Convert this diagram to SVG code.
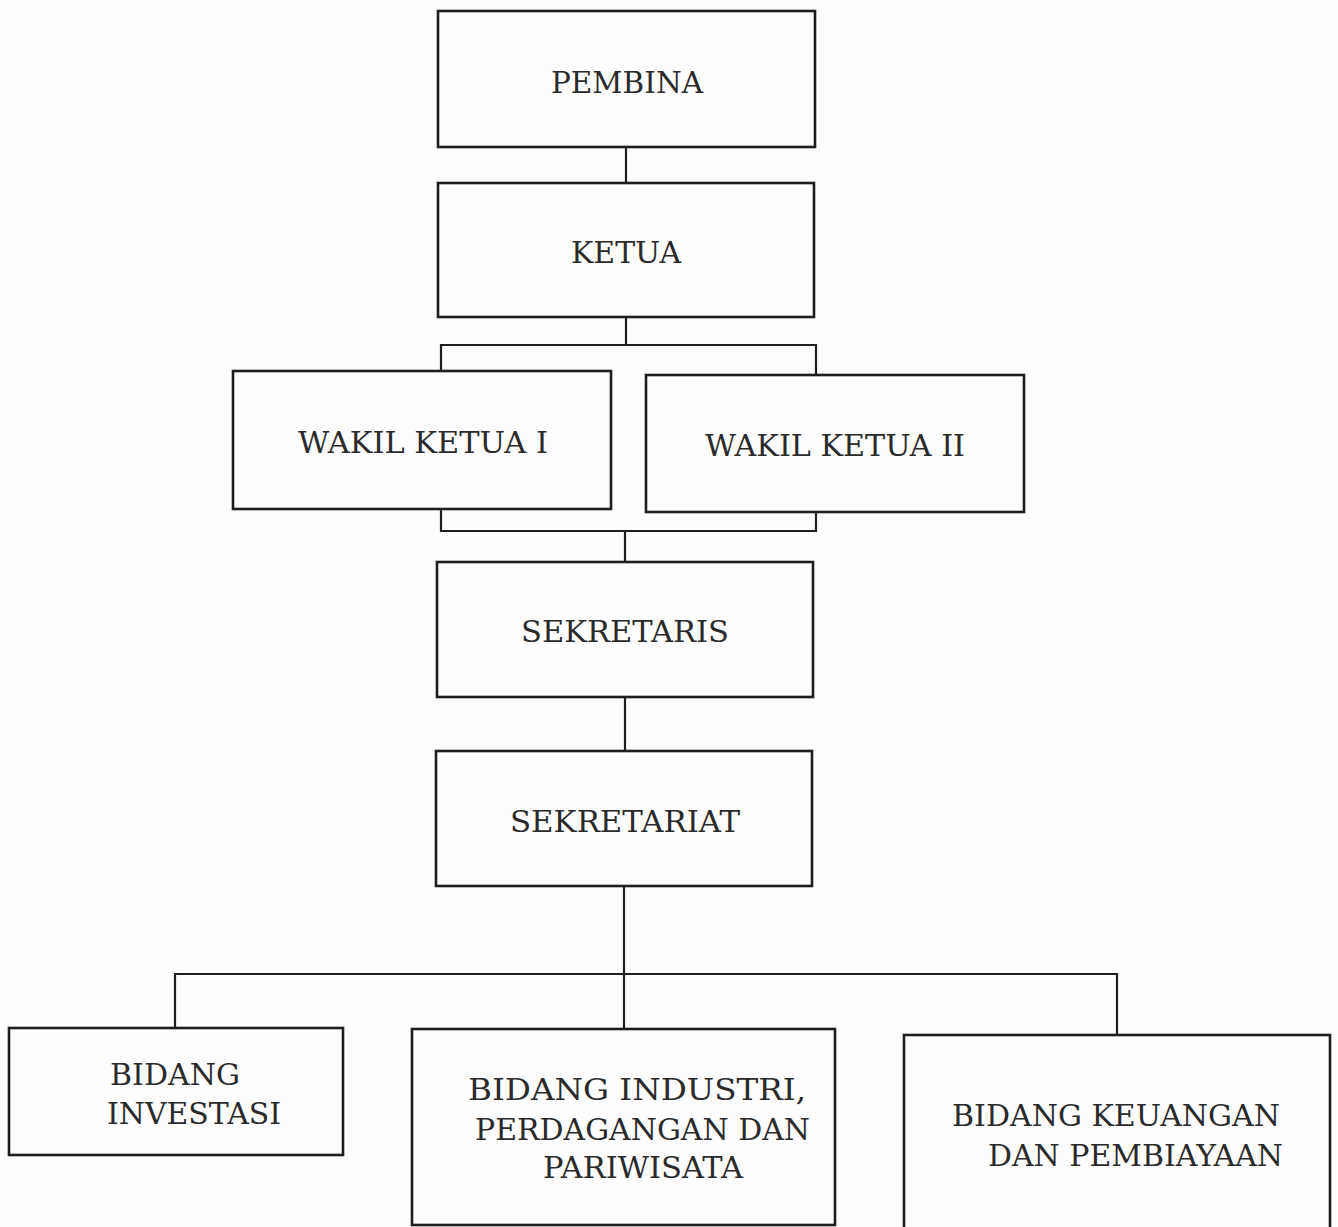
<svg xmlns="http://www.w3.org/2000/svg" width="1338" height="1227" viewBox="0 0 1338 1227">
<style>
.box{fill:none;stroke:#1e1e1e;stroke-width:2.6}
.con{fill:none;stroke:#1e1e1e;stroke-width:2.2}
text{font-family:"DejaVu Serif","Liberation Serif",serif;font-size:29.5px;fill:#2a2a2a}
.c{text-anchor:middle}
</style>
<rect width="1338" height="1227" fill="#fdfdfd"/>
<g id="connectors">
<path class="con" d="M626 147V183"/>
<path class="con" d="M626 317V345"/>
<path class="con" d="M441 371V345H816V375"/>
<path class="con" d="M441 509V531H816V512"/>
<path class="con" d="M625 531V562"/>
<path class="con" d="M625 697V751"/>
<path class="con" d="M624 886V1029"/>
<path class="con" d="M175 1028V974H1117V1036"/>
</g>
<g id="pembina"><rect class="box" x="438" y="11" width="377" height="136"/><text class="c" x="627" y="93" textLength="152" lengthAdjust="spacingAndGlyphs">PEMBINA</text></g>
<g id="ketua"><rect class="box" x="438" y="183" width="376" height="134"/><text class="c" x="626" y="263" textLength="110" lengthAdjust="spacingAndGlyphs">KETUA</text></g>
<g id="wakil1"><rect class="box" x="233" y="371" width="378" height="138"/><text class="c" x="423" y="453" textLength="250" lengthAdjust="spacingAndGlyphs">WAKIL KETUA I</text></g>
<g id="wakil2"><rect class="box" x="646" y="375" width="378" height="137"/><text class="c" x="835" y="456" textLength="260" lengthAdjust="spacingAndGlyphs">WAKIL KETUA II</text></g>
<g id="sekretaris"><rect class="box" x="437" y="562" width="376" height="135"/><text class="c" x="625" y="642" textLength="208" lengthAdjust="spacingAndGlyphs">SEKRETARIS</text></g>
<g id="sekretariat"><rect class="box" x="436" y="751" width="376" height="135"/><text class="c" x="625" y="832" textLength="230" lengthAdjust="spacingAndGlyphs">SEKRETARIAT</text></g>
<g id="investasi"><rect class="box" x="9" y="1028" width="334" height="127"/><text x="110" y="1085" textLength="130" lengthAdjust="spacingAndGlyphs">BIDANG</text><text x="107" y="1124" textLength="174" lengthAdjust="spacingAndGlyphs">INVESTASI</text></g>
<g id="industri"><rect class="box" x="412" y="1029" width="423" height="196"/><text x="468" y="1100" textLength="338" lengthAdjust="spacingAndGlyphs">BIDANG INDUSTRI,</text><text x="475" y="1140" textLength="335" lengthAdjust="spacingAndGlyphs">PERDAGANGAN DAN</text><text x="543" y="1178" textLength="200" lengthAdjust="spacingAndGlyphs">PARIWISATA</text></g>
<g id="keuangan"><rect class="box" x="904" y="1035" width="426" height="195"/><text x="952" y="1126" textLength="328" lengthAdjust="spacingAndGlyphs">BIDANG KEUANGAN</text><text x="988" y="1166" textLength="295" lengthAdjust="spacingAndGlyphs">DAN PEMBIAYAAN</text></g>
</svg>
